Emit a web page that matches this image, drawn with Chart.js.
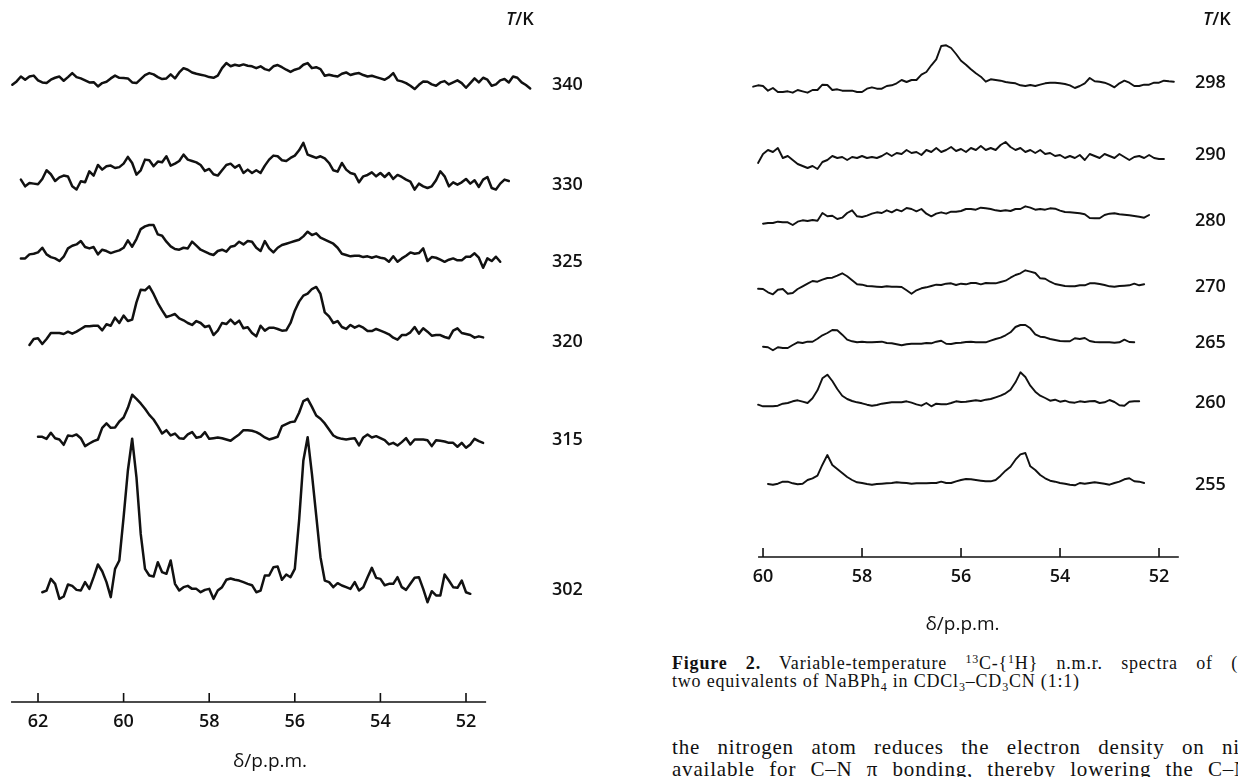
<!DOCTYPE html>
<html><head><meta charset="utf-8">
<script src="https://cdn.jsdelivr.net/npm/chart.js@4.4.1/dist/chart.umd.min.js"></script>
<style>
html,body{margin:0;padding:0;background:#fff;width:1238px;height:777px;overflow:hidden;position:relative;}
canvas{position:absolute;}
#cl{left:0;top:0;}
#cr{left:740px;top:0;}
.tk{position:absolute;font:600 18px "Open Sans";color:#111;}
.cap{position:absolute;left:672px;font:18px "Liberation Serif";letter-spacing:0.8px;color:#111;line-height:18px;white-space:nowrap;}
.body{position:absolute;left:672px;font:21px "Liberation Serif";letter-spacing:0.8px;color:#111;line-height:22px;}
.j{text-align:justify;text-align-last:justify;white-space:normal;}
.up{position:relative;top:-6px;font-size:12px;}
.dn{position:relative;top:4px;font-size:12px;}
</style></head>
<body>
<canvas id="cl" width="600" height="777"></canvas>
<canvas id="cr" width="498" height="640"></canvas>
<div class="tk" style="left:506px;top:6px;"><i>T</i>/K</div>
<div class="tk" style="left:1203px;top:6px;"><i>T</i>/K</div>
<div class="cap j" style="top:654px;width:566px;"><b>Figure 2.</b> Variable-temperature <span class="up">13</span>C-{<span class="up">1</span>H} n.m.r. spectra of (</div>
<div class="cap" style="top:672px;">two equivalents of NaBPh<span class="dn">4</span> in CDCl<span class="dn">3</span>–CD<span class="dn">3</span>CN (1:1)</div>
<div class="body j" style="top:736px;width:568px;">the nitrogen atom reduces the electron density on ni</div>
<div class="body j" style="top:758px;width:578px;">available for C–N π bonding, thereby lowering the C–N</div>
<script>
// ---- chemical-shift grids (ppm) ----
const leftPpm = [62.7,62.6,62.5,62.4,62.3,62.2,62.1,62.0,61.9,61.8,
61.7,61.6,61.5,61.4,61.3,61.2,61.1,61.0,60.9,60.8,
60.7,60.6,60.5,60.4,60.3,60.2,60.1,60.0,59.9,59.8,
59.7,59.6,59.5,59.4,59.3,59.2,59.1,59.0,58.9,58.8,
58.7,58.6,58.5,58.4,58.3,58.2,58.1,58.0,57.9,57.8,
57.7,57.6,57.5,57.4,57.3,57.2,57.1,57.0,56.9,56.8,
56.7,56.6,56.5,56.4,56.3,56.2,56.1,56.0,55.9,55.8,
55.7,55.6,55.5,55.4,55.3,55.2,55.1,55.0,54.9,54.8,
54.7,54.6,54.5,54.4,54.3,54.2,54.1,54.0,53.9,53.8,
53.7,53.6,53.5,53.4,53.3,53.2,53.1,53.0,52.9,52.8,
52.7,52.6,52.5,52.4,52.3,52.2,52.1,52.0,51.9,51.8,
51.7,51.6,51.5,51.4,51.3,51.2,51.1,51.0,50.9,50.8,
50.7,50.6,50.5,50.4];
const rightPpm = [60.4,60.3,60.2,60.1,60.0,59.9,59.8,59.7,59.6,59.5,
59.4,59.3,59.2,59.1,59.0,58.9,58.8,58.7,58.6,58.5,
58.4,58.3,58.2,58.1,58.0,57.9,57.8,57.7,57.6,57.5,
57.4,57.3,57.2,57.1,57.0,56.9,56.8,56.7,56.6,56.5,
56.4,56.3,56.2,56.1,56.0,55.9,55.8,55.7,55.6,55.5,
55.4,55.3,55.2,55.1,55.0,54.9,54.8,54.7,54.6,54.5,
54.4,54.3,54.2,54.1,54.0,53.9,53.8,53.7,53.6,53.5,
53.4,53.3,53.2,53.1,53.0,52.9,52.8,52.7,52.6,52.5,
52.4,52.3,52.2,52.1,52.0,51.9,51.8,51.7,51.6];

// ---- tick labels ----
const leftTicks = [62,60,58,56,54,52];
const rightTicks = [60,58,56,54,52];

// ---- temperatures (K) ----
const leftTemps = ['340','330','325','320','315','302'];
const rightTemps = ['298','290','280','270','265','260','255'];

// ---- first grid index of each trace ----
const leftStart = [1,3,3,5,7,8];
const rightStart = [2,3,4,3,4,3,5];

// ---- intensities (arbitrary units) ----
const s340 = [-1.8,1.8,7,3.6,7,8,3,0.7,0,3.6,5.7,7,2.5,6.4,10.7,6.4,5,2.9,0.7,1,
-3.6,0,1.4,5,8,5.7,5.4,5,0.7,0,4.3,8.6,10.7,9.3,6.4,4.3,5,9.3,5,11.4,
16,14.3,11.4,10,9,8,6.4,5.7,8,16,21.4,18,19.6,18.6,20,18.6,18,16,18,15,
13.6,18,19.3,17,14.3,12,14.3,15.7,19.6,21.4,16,17,15,7.9,9,7.9,7,10,11.4,8.6,
10,10.7,8.6,7,7.9,6.4,5,3.6,6.4,10.7,2.9,1.8,0,-2.9,-6.4,-1.8,1.8,1.4,-1.4,-2.9,
0.7,2.1,-1.4,0.7,2.9,0,-5,0,5,0.7,5.7,3.6,-2.9,-1.4,2.9,4.3,0.7,7,5.7,0.7,-2.1,-5.7];
const s330 = [3.6,-3.6,0,-0.7,-1.4,4.3,13.6,9.3,2.1,6,7.9,7,-3.6,-7,1.8,0.7,12.5,7.9,19.3,14.3,
17.9,18.6,16,17,20.7,27.9,21.4,8.9,13.6,25,24.3,17.9,22.9,22.1,28.6,18.6,20.7,23.6,30.4,25,
23.6,22.1,19.3,12.9,15,9.3,7.9,13.6,19.3,20.7,16.4,19.3,10.7,14.3,10.7,13.6,10.7,18.6,25,29.3,
28.6,24.3,23.6,26.8,29.3,35,42.9,30.4,28.6,26.8,28.6,26.4,21.4,13.6,12.1,21.4,14.3,10.7,9.3,0.7,
7.1,8.6,11.4,7.1,10.7,6.4,10.7,4.3,8.6,6.4,3.6,1.4,-7.1,-0.7,-3.6,-5.4,-3.6,2.9,12.5,7.1,
-3.6,0.7,-1.8,0.7,4.3,-0.7,2.9,-4.3,3.6,6.4,-5.4,-7.1,-0.7,3.6,2.1];
const s325 = [-1.8,-1.8,2.5,3.2,4.6,9.6,2.5,-0.4,-1.8,-4.6,0,8.9,11.8,13.2,16.8,10.4,8.9,10.4,2.5,7.5,
6.1,3.9,5.4,6.8,9.6,17.5,10.7,18.9,29.6,32.5,33.9,33.9,23.9,22.5,16.1,11.1,8.2,7.5,9.6,8.9,
16.1,11.8,7.5,5.4,3.2,1.8,6.1,7.5,5.4,10.7,11.8,16.1,13.2,16.8,16.1,9.6,6.1,16.8,8.9,4.6,
9.6,12.5,13.9,15.4,16.8,18.2,21.8,26.8,23.2,25,20.4,18.2,16.1,13.9,9.6,3.2,1.8,0.4,1.1,1.1,
-0.4,0.4,-1.1,0.4,-1.1,-1.8,-5.4,0.4,-5.4,-1.8,1.1,4.6,3.2,3.9,8.9,-4.6,-0.4,-1.1,-3.2,-5.4,
-3.2,-1.8,-3.9,-3.9,0,0,3.6,-1.1,-11.8,-1.8,-4.6,0,-5.4];
const s320 = [-13.6,-7.1,-6.4,-12.5,-7.1,-0.7,-0.7,-0.7,-1.8,0.7,-1.4,0.7,3.6,6.4,6.4,7.1,7.1,2.1,8.6,7.1,
15.7,10,17.9,12.1,13.6,32.1,45.7,45,49.3,41.1,31.4,23.6,16.4,17.9,19.6,15,12.9,10,7.9,12.1,
10,5.7,7.1,-2.9,1.8,10,8.9,13.6,8.9,12.5,4.3,5.4,-0.7,-4.3,7.1,1.8,5,5,3.6,1.8,
2.1,10,23.2,32.9,39.3,41.4,46.4,48.6,41.1,21.4,17.1,10,12.1,5.7,3.6,7.9,5,7.1,5,1.4,
1.4,3.6,1.8,0,-2.1,-5.7,-7.9,-2.9,-2.9,0,5.7,-1.4,4.3,0.7,-3.6,-2.9,-2.9,-5,-6.4,1.8,
4.3,-0.7,-1.8,-2.9,-5.7,-4.3,-5.4];
const s315 = [1.1,1.1,-1.1,5.4,-0.4,-1.8,-7.5,2.5,1.8,3.6,-0.4,-8.9,-6.1,-3.6,-1.8,10.7,15.4,10.7,11.1,17.5,
21.8,32.1,46.1,41.8,36.8,31.1,24.6,19.6,12.5,4.6,8.2,2.5,4.6,-0.4,-1.1,3.6,6.1,0,1.1,6.1,
-1.1,-0.4,0.4,-0.4,-1.8,-3.2,0.4,3.6,8.2,8.2,7.5,6.1,3.6,0.4,-1.8,-0.4,1.1,12.5,14.6,16.8,
17.5,26.8,39.3,41.8,33.2,23.9,20.4,15.4,8.9,2.5,0,-1.1,-1.8,-1.1,-0.4,-8.2,0.4,3.6,0.4,1.8,
-0.4,-2.5,-7.1,-5.4,-8.2,-4.6,-0.4,-7.1,-1.8,-1.8,-1.8,-2.5,-8.9,-2.5,-3.2,-3.9,-5.4,-5.4,-9.6,-5.4,
-10.7,-7.1,-1.1,-3.6,-5.4];
const s302 = [-5.4,-3.6,8.9,3.6,-12.5,-10,2.9,1.4,-2.9,-3.6,5.4,-1.8,10.7,24.3,17.1,5.4,-10.7,19.6,28.6,75,
125,159,118,57,19.6,12.5,11.4,26.8,16.1,14.3,28.6,3.6,-3.6,0,1.4,-1.8,-1.8,-5.4,-2.9,-1.8,
-12.5,-3.6,0,7.9,9.3,7.9,7.1,5.4,3.6,2.1,-5.4,-3.6,12.5,12.5,21.4,22.1,7.9,13.6,10.7,19.6,
71.4,135.7,160.7,121.4,76.8,32.1,7.1,5.4,0,4.3,1.8,0,-1.8,5.4,-3.6,0,10.7,20.7,10,8.9,
2.1,3.6,3.6,10.7,0,-2.9,3.6,10,10.7,-1.8,-16.1,-4.3,-8.9,-8.9,13.6,7.1,0,-0.7,7.1,-5.4,-7.1];

const s298 = [3.3,4.7,4,-0.7,2,-2,-2,-1.3,-2.7,0,-1.3,-2.7,0,0,5.3,5,0,0.7,-0.7,-0.7,
-0.7,-2,-2,1.3,2.7,1.3,1.3,4,4.7,6.7,10,8,10,10,15.3,18,24.7,30.7,44,44.7,
42,36,29.3,25.3,20.7,16.7,13.3,8.3,10.7,10,9.3,8,7.3,6.7,4.7,4,5,4,5.3,6.7,
7.3,7.3,6.7,6,4.7,2,4,6.7,12,8.7,8.3,7.3,5.3,2.7,6.7,9.3,7.3,4,4,5.3,
5.3,7.3,7.3,9.3,8.7,8.3];
const s290 = [-6,3,7,5,9,-1,1,-3,-7,-9,-11,-9,-12,-5,-3,1,-1,0,-3,0,
-1,1,-1,0,-1,1,4,1,4,3,7,4,5,2,7,5,9,5,7,10,
6,8,5,9,7,11,7,9,7,12,15,10,7,9,5,7,4,7,3,4,
1,2,-1,1,-1,2,-3,3,1,-1,3,1,-1,3,0,-3,0,1,-1,2,-1,-2,-2];
const s280 = [-0.7,0,0,1.3,0.7,0.7,-2,1.3,2.7,2,3,2.3,10,6.7,7.3,4,5.3,10,12.7,6.7,
6,7.3,9.3,10.7,10,12.7,10.7,13.3,11.7,15,14,11.7,14,9.3,6.7,9.3,10.7,9.3,11.3,11.3,
12,14,14,13.3,15.3,14.7,14,12.7,12,12.7,12,14,14,16.7,15.3,13.3,14,13.3,14.7,14.3,
12.3,11,10.7,10.3,9.7,8.7,5,4.7,4.7,8,9.3,9.7,8.7,8.3,7.7,7,6.3,5.3,8];
const s270 = [-1.7,-2,-5.3,-7.3,-2.7,-2,-6.7,-6,-2,0.7,3.3,6,5.3,7.3,9,9.3,11.3,13.7,10.7,6.7,
2.7,2.3,1,0.7,0.3,0,0.7,0.3,0.3,0,-3.3,-6.7,-3.3,-1.3,-0.3,1,2.3,2,3.3,3.7,
2,3.3,2.7,4,4,2.7,4,3.7,3.7,5,6.3,9.3,12,13.7,16.7,15.3,14,8.7,8.3,5.3,
3,2,1,0.7,0.7,1.7,1.7,3.7,3.7,3,2,0.7,0.3,1,1.3,1.7,3.3,1.7,2.7];
const s265 = [-3.7,-4.3,-7.3,-4.3,-5,-5,-2,0.7,0,1.3,1.3,4.3,7.7,10,13,12.7,8.3,3.3,1.7,0.7,
1.3,0.7,0.7,1,1.3,0,-0.3,-1.3,-2.3,-1.3,-0.7,-0.7,-0.7,0,-0.3,1.3,2.3,-0.7,-1,0,
0.3,1,1.3,0.7,0.7,0.7,2.3,4,5.3,7.7,10.7,16,18,18,14.7,8.7,6.3,5.7,4,3,
2,1.7,1.7,4.7,4,5,2,1,0.7,0.7,0.7,0.3,0.7,3.3,1,0.7];
const s260 = [-1.7,-3.3,-3.3,-3.3,-2.7,-0.7,0,1.7,2.7,1.3,0,4.7,12.7,24.7,28.3,22,14,7.3,4,2,
0.7,-0.3,-1.7,-2.7,-2,-0.7,0,0.7,0.7,0.7,1.7,0.3,-1.3,-2.7,0,-3.3,-0.7,-1.3,-1.3,0,
1.7,1,1.3,2,2.7,2,3.3,4,5.7,7.3,9.7,13.3,20.7,30.7,26,17.3,11.3,7.3,5,2.3,
3.3,1.3,2.3,0.7,0.3,1.7,1,1.7,2,0,0.7,3,1,-2.3,-2.7,1.3,1.7,1.7];
const s255 = [-1,-1.7,-0.7,1.3,1.3,-0.3,-1.3,-0.7,3,4.7,7.3,18.3,28,18,14,10,6,3,0.7,0,
-1,-1.7,-1,-0.7,-0.3,0,0.7,0.3,0,-0.7,-0.3,-0.3,-0.3,0,0,1.3,0,0,1.7,3,
4,3.7,3,2.3,1.7,1.7,3,7.3,12.3,16.3,23.3,28.7,30,16.7,13,8,4.7,2.3,1.3,0,
-0.7,-1.7,-2.3,0,-0.7,0,0.7,0,-0.7,-1.7,0,1.3,3.7,4.7,1.7,1.3,0];

const leftSeries = [s340,s330,s325,s320,s315,s302];
const rightSeries = [s298,s290,s280,s270,s265,s260,s255];

// ---- layout: vertical stacking offsets of the traces (y-units) ----
const leftOffsets = [663,556,477,396,283,123];
const leftLabelY  = [661,554,471,386,281,120];
const rightOffsets = [467,400,334,270,214,154,74];
const rightLabelY  = [474,402,336,270,214,154,72];

const INK = '#111';
const LABEL_FONT = '600 18px "Open Sans"';

const stackPlugin = {
  id: 'stack',
  afterDraw(chart) {
    const o = chart.options.plugins.stack;
    const {ctx, chartArea} = chart;
    const x = chart.scales.x, y = chart.scales.y;
    ctx.save();
    ctx.strokeStyle = INK;
    ctx.lineWidth = 1.6;
    const yb = chartArea.bottom;
    ctx.beginPath();
    ctx.moveTo(x.getPixelForValue(o.axisFrom), yb);
    ctx.lineTo(x.getPixelForValue(o.axisTo), yb);
    o.ticks.forEach(v => {
      const px = x.getPixelForValue(v);
      ctx.moveTo(px, yb);
      ctx.lineTo(px, yb - 9);
    });
    ctx.stroke();
    ctx.fillStyle = INK;
    ctx.font = LABEL_FONT;
    ctx.textBaseline = 'middle';
    ctx.textAlign = 'left';
    o.labels.forEach((t, k) => {
      ctx.fillText(t, chartArea.right + o.dx, y.getPixelForValue(o.labelY[k]));
    });
    ctx.restore();
  }
};

function makeDatasets(grid, starts, series, offsets, width) {
  return series.map((vals, k) => ({
    data: vals.map((v, j) => ({x: grid[starts[k] + j], y: offsets[k] + v})),
    borderColor: INK,
    borderWidth: width,
    pointRadius: 0,
    tension: 0,
    fill: false,
    borderJoinStyle: 'round',
    borderCapStyle: 'round'
  }));
}

function makeChart(id, cfg) {
  return new Chart(document.getElementById(id), {
    type: 'line',
    data: {datasets: makeDatasets(cfg.grid, cfg.starts, cfg.series, cfg.offsets, cfg.lineWidth)},
    options: {
      responsive: false,
      maintainAspectRatio: false,
      animation: false,
      events: [],
      layout: {padding: {left: 0, top: 0, right: cfg.padRight, bottom: 0}},
      plugins: {
        legend: {display: false},
        tooltip: {enabled: false},
        stack: {axisFrom: cfg.axisFrom, axisTo: cfg.axisTo, ticks: cfg.ticks,
                labels: cfg.labels, labelY: cfg.labelY, dx: cfg.dx}
      },
      scales: {
        x: {
          type: 'linear',
          reverse: true,
          min: cfg.xMin,
          max: cfg.xMax,
          afterBuildTicks: s => { s.ticks = cfg.ticks.map(v => ({value: v})); },
          afterFit: s => { s.height = cfg.axisHeight; },
          grid: {display: false, drawTicks: false},
          border: {display: false},
          ticks: {color: INK, font: {family: 'Open Sans', size: 18, weight: '600'},
                  padding: 9, maxRotation: 0, autoSkip: false},
          title: {display: true, text: 'δ/p.p.m.', color: INK,
                  font: {family: 'Open Sans', size: 19, weight: '500'},
                  padding: {top: 0, bottom: 4}}
        },
        y: {display: false, min: 0, max: cfg.yMax}
      }
    },
    plugins: [stackPlugin]
  });
}

makeChart('cl', {
  grid: leftPpm, starts: leftStart, series: leftSeries, offsets: leftOffsets,
  lineWidth: 2.5, padRight: 60, xMin: 50.271, xMax: 62.888, axisHeight: 75, yMax: 752,
  axisFrom: 62.63, axisTo: 51.53, ticks: leftTicks, labels: leftTemps, labelY: leftLabelY, dx: 12
});
makeChart('cr', {
  grid: rightPpm, starts: rightStart, series: rightSeries, offsets: rightOffsets,
  lineWidth: 1.9, padRight: 53, xMin: 51.475, xMax: 60.465, axisHeight: 83, yMax: 557,
  axisFrom: 60.1, axisTo: 51.6, ticks: rightTicks, labels: rightTemps, labelY: rightLabelY, dx: 10
});
</script>
</body></html>
